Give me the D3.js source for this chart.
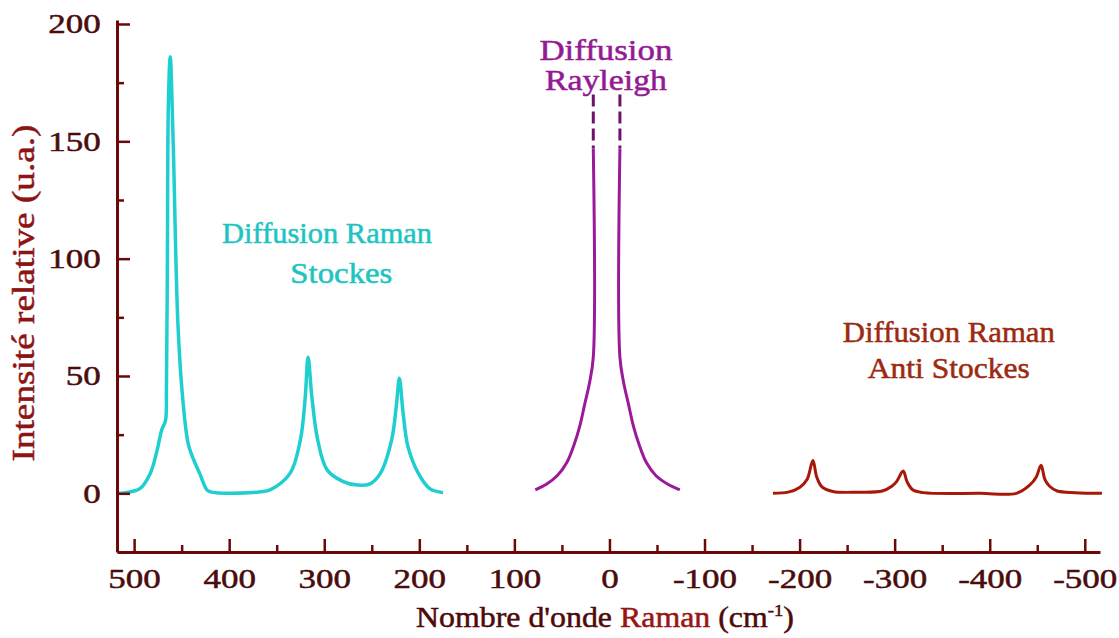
<!DOCTYPE html>
<html>
<head>
<meta charset="utf-8">
<script src="https://cdn.jsdelivr.net/npm/d3@7"></script>
<style>
    html, body { margin: 0; padding: 0; background: #fff; }
    svg { display: block; font-family: "Liberation Serif", "Times New Roman", serif; }
    text { paint-order: stroke; }
</style>
</head>
<body>
<svg id="chart" width="1119" height="638"></svg>
<script>
// [wavenumber (cm-1), intensity (u.a.)]
var stokes = [
    [518, 0], [509, 0.3], [494, 2], [483, 8.5], [476, 18], [471, 27], [467, 31],
    [466, 45], [465, 98], [464, 165], [462, 186], [459, 151], [454, 73], [449, 41],
    [443, 21], [436, 13], [431, 8.5], [423, 1.3], [417, 0.4], [400, 0], [380, 0.2],
    [367, 0.7], [357, 1.5], [336, 8.5], [325, 23], [320, 41], [317, 58], [313, 41],
    [307, 23], [297, 10], [280, 5], [265, 3.5], [252, 4], [241, 8.5], [229, 23],
    [224, 38], [221, 49], [217, 34], [212, 20], [201, 8.5], [189, 2], [175, 0.3]
];
var rayleighLeft = [
    [78, 1.5], [66, 4], [55, 7.5], [45, 13], [37, 21], [31, 29], [26, 38], [21, 47],
    [17, 58], [17, 147]
];
var rayleighRight = [
    [-11, 147], [-11, 58], [-15, 47], [-20, 38], [-25, 29], [-31, 21], [-39, 13],
    [-49, 7.5], [-61, 4], [-74, 1.5]
];
// the two Rayleigh lines continue dashed, cut off
var rayleighCutX = [17, -11];
var rayleighCut = [147, 170];
var antiStokes = [
    [-172, 0], [-188, 0.5], [-200, 2.5], [-208, 6], [-214, 14], [-218, 7], [-223, 3],
    [-235, 0.8], [-262, 0.5], [-287, 1], [-297, 3], [-302, 5], [-309, 9.5], [-313, 5],
    [-319, 1.5], [-330, 0.3], [-390, 0], [-428, 0], [-442, 3.5], [-449, 7], [-454, 12],
    [-458, 6], [-463, 3], [-471, 1], [-490, 0.3], [-518, 0]
];

var xTicks = [500, 400, 300, 200, 100, 0, -100, -200, -300, -400, -500];
var xMinorTicks = [450, 350, 250, 150, 50, -50, -150, -250, -350, -450];
var yTicks = [0, 50, 100, 150, 200];
var yMinorTicks = [25, 75, 125, 175];

var labelLines = [
    { text: "Diffusion Raman", w: 297, v: 106.7, color: "#1ec4c0", len: 210 },
    { text: "Stockes", w: 282, v: 89.6, color: "#1ec4c0", len: 102 },
    { text: "Diffusion", w: 3.7, v: 184.7, color: "#931a93", len: 133 },
    { text: "Rayleigh", w: 3.7, v: 171.9, color: "#931a93", len: 122 },
    { text: "Diffusion Raman", w: -357, v: 64.5, color: "#9c2a10", len: 212 },
    { text: "Anti Stockes", w: -357, v: 49.1, color: "#9c2a10", len: 162 }
];

var svg = d3.select("#chart");
var axisColor = "#6b0808";
var tickTextColor = "#4a0c0c";

var x = d3.scaleLinear().domain([518, -516]).range([117, 1100]);
var y = d3.scaleLinear().domain([-25, 201.7]).range([552, 20]);

var line = d3.line()
    .x(function (d) { return x(d[0]); })
    .y(function (d) { return y(d[1]); })
    .curve(d3.curveCatmullRom.alpha(0.5));

// spectra
svg.append("path").datum(stokes)
    .attr("d", line).attr("fill", "none")
    .attr("stroke", "#1fcfcf").attr("stroke-width", 3.5).attr("stroke-linejoin", "round");

[rayleighLeft, rayleighRight].forEach(function (branch) {
    svg.append("path").datum(branch)
        .attr("d", line).attr("fill", "none")
        .attr("stroke", "#9a1a9a").attr("stroke-width", 3).attr("stroke-linejoin", "round");
});

rayleighCutX.forEach(function (w) {
    svg.append("line")
        .attr("x1", x(w)).attr("x2", x(w))
        .attr("y1", y(rayleighCut[1])).attr("y2", y(rayleighCut[0]))
        .attr("stroke", "#6e126e").attr("stroke-width", 3)
        .attr("stroke-dasharray", "12,5");
});

svg.append("path").datum(antiStokes)
    .attr("d", line).attr("fill", "none")
    .attr("stroke", "#a81808").attr("stroke-width", 3).attr("stroke-linejoin", "round");

// axes, ticks pointing inward
function styleAxis(g) {
    g.select(".domain").attr("stroke", axisColor).attr("stroke-width", 3);
    g.selectAll(".tick line").attr("stroke", axisColor).attr("stroke-width", 2.5);
    g.selectAll(".tick text")
        .attr("fill", tickTextColor)
        .attr("stroke", tickTextColor).attr("stroke-width", 0.5)
        .style("font-family", "'Liberation Serif', 'Times New Roman', serif")
        .style("font-size", "28px")
        .attr("transform", "scale(1.25,1)");
}

svg.append("g")
    .attr("transform", "translate(0," + y(-25) + ")")
    .call(d3.axisBottom(x).tickValues(xMinorTicks).tickSizeInner(-7).tickSizeOuter(0).tickFormat(""))
    .call(function (g) { g.select(".domain").remove(); })
    .call(styleAxis);

svg.append("g")
    .attr("transform", "translate(0," + y(-25) + ")")
    .call(d3.axisBottom(x).tickValues(xTicks).tickSizeInner(-13).tickSizeOuter(0).tickPadding(16)
        .tickFormat(function (d) { return String(d); }))
    .call(styleAxis);

svg.append("g")
    .attr("transform", "translate(" + x(518) + ",0)")
    .call(d3.axisLeft(y).tickValues(yMinorTicks).tickSizeInner(-7).tickSizeOuter(0).tickFormat(""))
    .call(function (g) { g.select(".domain").remove(); })
    .call(styleAxis);

svg.append("g")
    .attr("transform", "translate(" + x(518) + ",0)")
    .call(d3.axisLeft(y).tickValues(yTicks).tickSizeInner(-13).tickSizeOuter(0).tickPadding(13)
        .tickFormat(function (d) { return String(d); }))
    .call(styleAxis);

// axis titles
svg.append("text")
    .attr("transform", "translate(34,293) rotate(-90)")
    .attr("text-anchor", "middle")
    .attr("fill", "#8c1414").attr("stroke", "#8c1414").attr("stroke-width", 0.5)
    .style("font-size", "31px")
    .attr("textLength", 337).attr("lengthAdjust", "spacingAndGlyphs")
    .text("Intensité relative (u.a.)");

var xTitle = svg.append("text")
    .attr("x", 605).attr("y", 627)
    .attr("text-anchor", "middle")
    .attr("stroke-width", 0.5)
    .style("font-size", "29px")
    .attr("textLength", 378).attr("lengthAdjust", "spacingAndGlyphs");
xTitle.append("tspan").attr("fill", "#4e0a0a").attr("stroke", "#4e0a0a").text("Nombre d'onde ");
xTitle.append("tspan").attr("fill", "#9a1414").attr("stroke", "#9a1414").text("Raman ");
xTitle.append("tspan").attr("fill", "#4e0a0a").attr("stroke", "#4e0a0a").text("(cm");
xTitle.append("tspan").attr("fill", "#4e0a0a").attr("stroke", "#4e0a0a")
    .attr("dy", -11).style("font-size", "17px").text("-1");
xTitle.append("tspan").attr("fill", "#4e0a0a").attr("stroke", "#4e0a0a").attr("dy", 11).text(")");

// annotations
svg.selectAll(".note")
    .data(labelLines)
    .enter()
    .append("text")
    .attr("class", "note")
    .attr("x", function (d) { return x(d.w); })
    .attr("y", function (d) { return y(d.v); })
    .attr("text-anchor", "middle")
    .attr("fill", function (d) { return d.color; })
    .attr("stroke", function (d) { return d.color; })
    .attr("stroke-width", 0.5)
    .style("font-size", "29px")
    .attr("textLength", function (d) { return d.len; })
    .attr("lengthAdjust", "spacingAndGlyphs")
    .text(function (d) { return d.text; });
</script>
</body>
</html>
